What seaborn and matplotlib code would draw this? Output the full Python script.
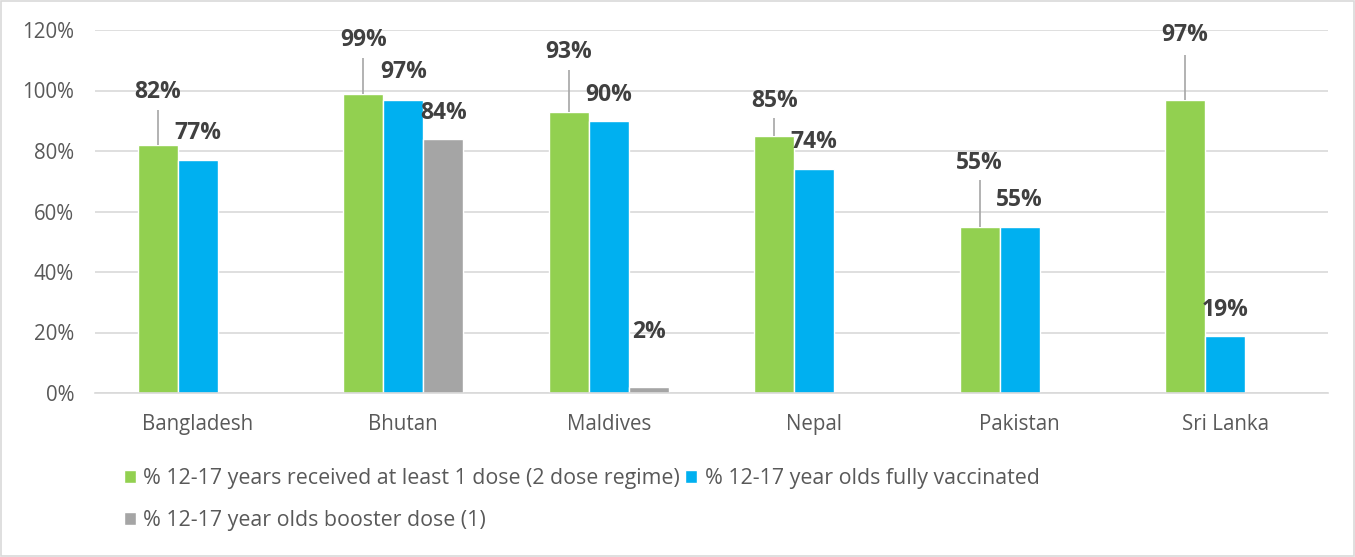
import numpy as np
import pandas as pd
import matplotlib
matplotlib.use("Agg")
import matplotlib.pyplot as plt
import seaborn as sns

countries = ["Bangladesh", "Bhutan", "Maldives", "Nepal", "Pakistan", "Sri Lanka"]
series = ["% 12-17 years received at least 1 dose (2 dose regime)",
          "% 12-17 year olds fully vaccinated",
          "% 12-17 year olds booster dose (1)"]
at_least_one = [82, 99, 93, 85, 55, 97]
fully_vacc = [77, 97, 90, 74, 55, 19]
booster = [np.nan, 84, 2, np.nan, np.nan, np.nan]
yticks = [0, 20, 40, 60, 80, 100, 120]

colors = ["#92D050", "#00B0F0", "#A5A5A5"]

# label placement (data units) and leader line tops
label_y = {
    (0, 0): 99.5, (0, 1): 86,
    (1, 0): 116.7, (1, 1): 106, (1, 2): 92.6,
    (2, 0): 112.7, (2, 1): 98.5, (2, 2): 20.2,
    (3, 0): 96.5, (3, 1): 83,
    (4, 0): 76, (4, 1): 63.8,
    (5, 0): 118.3, (5, 1): 27.4,
}
leader_top = {
    (0, 0): 93.5, (1, 0): 110.7, (2, 0): 106.8,
    (3, 0): 91, (4, 0): 70.4, (5, 0): 111.7,
}

rows = []
for s, vals in zip(series, [at_least_one, fully_vacc, booster]):
    for c, v in zip(countries, vals):
        if not np.isnan(v):
            rows.append({"country": c, "series": s, "value": v})
df = pd.DataFrame(rows)

sns.set_theme(style="white")
plt.rcParams["font.family"] = ["Open Sans", "DejaVu Sans"]

fig = plt.figure(figsize=(13.55, 5.57), dpi=100)
ax = fig.add_axes([95/1355, 1-393/557, (1328-95)/1355, (393-30)/557])

sns.barplot(data=df, x="country", y="value", hue="series", order=countries,
            hue_order=series, palette=colors, width=0.585, dodge=True,
            errorbar=None, saturation=1, ax=ax, legend=True)

ax.set_xlim(-0.5, 5.5)
ax.set_ylim(0, 120)
ax.set_yticks(yticks)
ax.set_yticklabels([f"{t}%" for t in yticks])
ax.yaxis.grid(True, color="#D9D9D9", linewidth=1.2)
ax.set_axisbelow(True)
for sp in ["left", "right", "top"]:
    ax.spines[sp].set_visible(False)
ax.spines["bottom"].set_color("#D9D9D9")
ax.spines["bottom"].set_linewidth(1.2)
ax.tick_params(axis="both", length=0, colors="#595959", labelsize=14.8)
ax.tick_params(axis="x", pad=15)
ax.tick_params(axis="y", pad=15)
ax.set_xlabel("")
ax.set_ylabel("")

for si, cont in enumerate(ax.containers):
    for bar in cont:
        h = bar.get_height()
        if np.isnan(h):
            continue
        xc = bar.get_x() + bar.get_width() / 2
        ci = int(round(xc))
        key = (ci, si)
        ly = label_y.get(key, h + 9)
        ax.text(xc, ly, f"{int(round(h))}%", ha="center", va="center",
                fontsize=16.5, fontweight="bold", color="#404040")
        if key in leader_top:
            ax.plot([xc, xc], [h, leader_top[key]], color="#A6A6A6", lw=1.2,
                    solid_capstyle="butt")

# legend
handles, labels = ax.get_legend_handles_labels()
ax.get_legend().remove()
order = [0, 2, 1]
leg = fig.legend([handles[i] for i in order], [labels[i] for i in order],
                 loc="upper left", bbox_to_anchor=(124/1355, 1-468/557),
                 ncol=2, frameon=False, fontsize=15.4, handlelength=0.55,
                 handleheight=0.55, handletextpad=0.35, columnspacing=0.25,
                 labelspacing=1.0, borderaxespad=0, borderpad=0)
for t in leg.get_texts():
    t.set_color("#595959")

# outer border
fig.patches.append(plt.Rectangle((0.001, 0.002), 0.998, 0.996, transform=fig.transFigure,
                                 fill=False, edgecolor="#D9D9D9", linewidth=1.2))

fig.savefig("out.png", dpi=100)
